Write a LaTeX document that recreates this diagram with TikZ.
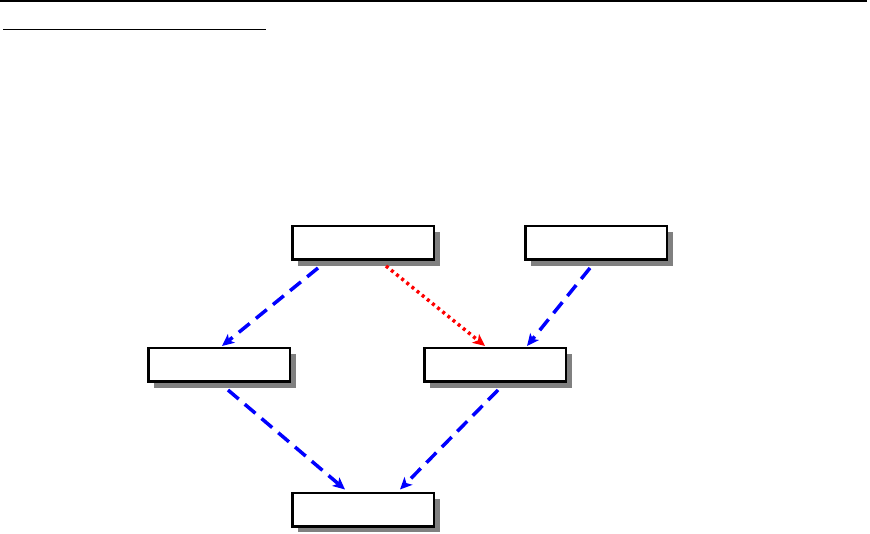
\documentclass[tikz,border=0pt]{standalone}
\usetikzlibrary{arrows.meta,shadows}
\begin{document}
\begin{tikzpicture}[x=1pt,y=-1pt,
  box/.style={draw=black,line width=2.5pt,fill=white,minimum width=141.5pt,minimum height=33.5pt,inner sep=0pt,
    drop shadow={shadow xshift=6pt,shadow yshift=-6pt,fill=black!50,opacity=1}},
  bluearrow/.style={draw=blue,line width=3.5pt,dash pattern=on 14pt off 8pt,-{Stealth[length=12pt,width=11pt,inset=3pt]}},
  redarrow/.style={draw=red,line width=3.5pt,dash pattern=on 3pt off 3.6pt,-{Stealth[length=12pt,width=11pt,inset=3pt]}}]
\useasboundingbox (0,0) rectangle (870,534);
\coordinate (l1a) at (0,0.8);
\coordinate (l1b) at (867,0.8);
\coordinate (l2a) at (3,29.5);
\coordinate (l2b) at (266,29.5);
\draw[line width=1.5pt] (l1a) -- (l1b);
\draw[line width=1.3pt] (l2a) -- (l2b);
\node[box] (A) at (363,243) {};
\node[box] (B) at (596,243) {};
\node[box] (C) at (219,365) {};
\node[box] (D) at (495,365) {};
\node[box] (E) at (363,509.5) {};
\draw[bluearrow] ([xshift=27pt,yshift=-7pt]A.south west) -- ([xshift=75pt,yshift=1pt]C.north west);
\draw[redarrow] ([xshift=95pt,yshift=-5pt]A.south west) -- ([xshift=62pt,yshift=1pt]D.north west);
\draw[bluearrow] ([xshift=66pt,yshift=-7pt]B.south west) -- ([xshift=104pt,yshift=1pt]D.north west);
\draw[bluearrow] ([xshift=81pt,yshift=-7pt]C.south west) -- ([xshift=54pt,yshift=2pt]E.north west);
\draw[bluearrow] ([xshift=75pt,yshift=-7pt]D.south west) -- ([xshift=109pt,yshift=2pt]E.north west);
\end{tikzpicture}
\end{document}
